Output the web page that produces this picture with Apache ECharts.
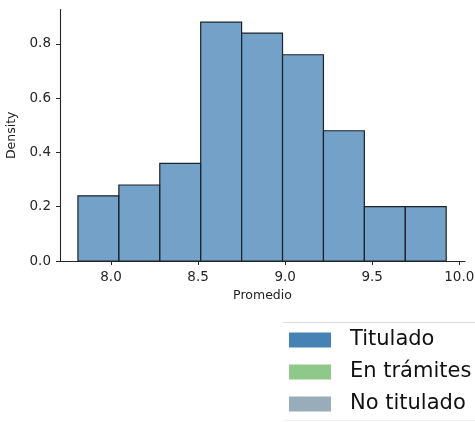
<!DOCTYPE html>
<html>
<head>
<meta charset="utf-8">
<script src="https://cdn.jsdelivr.net/npm/echarts@6/dist/echarts.min.js"></script>
<style>
html,body{margin:0;padding:0;background:#fff;}
#chart{width:475px;height:422px;}
</style>
</head>
<body>
<div id="chart"></div>
<script>
var binEdges = [7.81, 8.045, 8.28, 8.515, 8.75, 8.985, 9.22, 9.455, 9.69, 9.925];
var densities = [0.24, 0.28, 0.36, 0.88, 0.84, 0.76, 0.48, 0.20, 0.20];
var xTicks = [8.0, 8.5, 9.0, 9.5, 10.0];
var yTicks = [0.0, 0.2, 0.4, 0.6, 0.8];
var legendNames = ['Titulado', 'En trámites', 'No titulado'];
var legendColors = ['#4682b4', '#8fc98a', '#98acb9'];

var binData = densities.map(function (d, i) { return [binEdges[i], binEdges[i + 1], d]; });

var chart = echarts.init(document.getElementById('chart'), null, {renderer: 'canvas'});
var font = 'DejaVu Sans';
var series = [{
  name: legendNames[0],
  type: 'custom',
  data: binData,
  encode: {x: [0, 1], y: 2},
  itemStyle: {color: legendColors[0]},
  renderItem: function (params, api) {
    var p0 = api.coord([api.value(0), api.value(2)]);
    var p1 = api.coord([api.value(1), 0]);
    return {
      type: 'rect',
      shape: {x: p0[0], y: p0[1], width: p1[0] - p0[0], height: p1[1] - p0[1]},
      style: {fill: 'rgba(70,130,180,0.75)', stroke: '#1c232a', lineWidth: 1.2}
    };
  }
}];
for (var k = 1; k < legendNames.length; k++) {
  series.push({name: legendNames[k], type: 'bar', data: [], itemStyle: {color: legendColors[k]}});
}

chart.setOption({
  animation: false,
  backgroundColor: '#fff',
  grid: {left: 60, right: 10, top: 9.5, bottom: 161, containLabel: false, outerBoundsMode: 'none'},
  xAxis: {
    type: 'value', min: 7.707, max: 10.033,
    name: 'Promedio', nameLocation: 'middle', nameGap: 27,
    nameTextStyle: {fontFamily: font, fontSize: 12.5, color: '#222'},
    axisLine: {show: true, onZero: false, lineStyle: {color: '#262626', width: 1.1}},
    axisTick: {show: true, length: 4, customValues: xTicks, lineStyle: {color: '#262626'}},
    axisLabel: {customValues: xTicks, fontFamily: font, fontSize: 13.5, color: '#262626', margin: 9,
      formatter: function (v) { return v.toFixed(1); }},
    splitLine: {show: false}
  },
  yAxis: {
    type: 'value', min: 0, max: 0.9267,
    name: 'Density', nameLocation: 'middle', nameGap: 39, nameRotate: 90,
    nameTextStyle: {fontFamily: font, fontSize: 12.5, color: '#222'},
    axisLine: {show: true, lineStyle: {color: '#262626', width: 1.1}},
    axisTick: {show: true, length: 4, customValues: yTicks, lineStyle: {color: '#262626'}},
    axisLabel: {customValues: yTicks, fontFamily: font, fontSize: 13.5, color: '#262626', margin: 9,
      formatter: function (v) { return v.toFixed(1); }},
    splitLine: {show: false}
  },
  legend: {
    data: legendNames,
    orient: 'vertical',
    left: 289, top: 329.5,
    padding: 0,
    itemWidth: 42, itemHeight: 15, itemGap: 11,
    icon: 'rect',
    selectedMode: false,
    textStyle: {fontFamily: font, fontSize: 21, lineHeight: 20, color: '#111', padding: [0, 0, 0, 14]}
  },
  graphic: [
    {type: 'line', shape: {x1: 283, y1: 322.5, x2: 480, y2: 322.5}, style: {stroke: '#dcdcdc', lineWidth: 1}, silent: true},
    {type: 'line', shape: {x1: 283, y1: 420.5, x2: 480, y2: 420.5}, style: {stroke: '#f0f0f0', lineWidth: 1}, silent: true}
  ],
  series: series
});
</script>
</body>
</html>
